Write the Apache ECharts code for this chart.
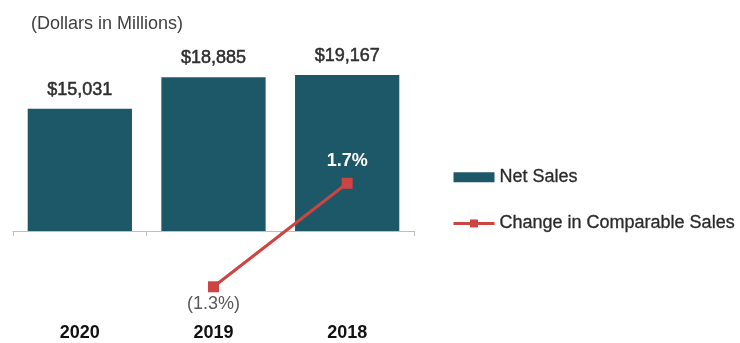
<!DOCTYPE html>
<html>
<head>
<meta charset="utf-8">
<script src="https://cdn.jsdelivr.net/npm/echarts@6/dist/echarts.min.js"></script>
<style>
  html, body { margin: 0; padding: 0; background: #fff; }
  #chart { width: 740px; height: 343px; }
</style>
</head>
<body>
<div id="chart"></div>
<script>
// Fiscal years, newest first
const years = ['2020', '2019', '2018'];
// Net sales, dollars in millions
const netSales = [15031, 18885, 19167];
// Change in comparable sales, percent (no figure for 2020)
const compChange = [null, -1.3, 1.7];

const FONT = '"Liberation Sans", Arial, sans-serif';
const RED = '#cc4542';
const TEAL = '#1d5868';

const fmtDollars = v => '$' + v.toLocaleString('en-US');
const fmtPct = v => v < 0 ? '(' + Math.abs(v).toFixed(1) + '%)' : v.toFixed(1) + '%';

const chart = echarts.init(document.getElementById('chart'));
chart.setOption({
  animation: false,
  backgroundColor: '#ffffff',
  textStyle: { fontFamily: FONT },
  title: {
    text: '(Dollars in Millions)',
    left: 26,
    top: 10,
    textStyle: { fontFamily: FONT, fontSize: 18, fontWeight: 'normal', color: '#404040' }
  },
  legend: {
    orient: 'vertical',
    left: 447,
    top: 163,
    itemWidth: 41,
    itemHeight: 10,
    itemGap: 28,
    textStyle: {
      fontFamily: FONT, fontSize: 18, color: '#2a2a2a',
      textBorderColor: '#2a2a2a', textBorderWidth: 0.3
    },
    data: [
      { name: 'Net Sales', icon: 'rect' },
      { name: 'Change in Comparable Sales', lineStyle: { width: 3, color: RED }, itemStyle: { color: RED } }
    ]
  },
  grid: { left: 13, right: 326, top: 28, bottom: 112, containLabel: false },
  xAxis: {
    type: 'category',
    data: years,
    axisLine: { lineStyle: { color: '#bfbfbf', width: 1 } },
    axisTick: { show: true, alignWithLabel: false, length: 5, lineStyle: { color: '#bfbfbf' } },
    axisLabel: { margin: 93, fontFamily: FONT, fontSize: 18, fontWeight: 'bold', color: '#111' }
  },
  yAxis: [
    { type: 'value', min: 0, max: 24940, show: false, splitLine: { show: false } },
    { type: 'value', min: 0.317, max: 6.2, show: false, splitLine: { show: false } }
  ],
  series: [
    {
      name: 'Net Sales',
      type: 'bar',
      data: netSales,
      barCategoryGap: '22%',
      itemStyle: { color: TEAL },
      label: {
        show: true,
        position: 'top',
        distance: 10,
        formatter: p => fmtDollars(p.value),
        fontFamily: FONT,
        fontSize: 18,
        color: '#2e2e2e',
        textBorderColor: '#2e2e2e',
        textBorderWidth: 0.5
      }
    },
    {
      name: 'Change in Comparable Sales',
      type: 'line',
      yAxisIndex: 1,
      clip: false,
      symbol: 'rect',
      symbolSize: 11,
      lineStyle: { color: RED, width: 3 },
      itemStyle: { color: RED },
      label: {
        show: true,
        fontFamily: FONT,
        fontSize: 18,
        formatter: p => fmtPct(p.value)
      },
      // positive change sits above its point in white, negative below in gray
      data: compChange.map(v => v == null ? '-' : {
        value: v,
        label: v < 0
          ? { position: 'bottom', distance: 3, color: '#595959' }
          : { position: 'top', distance: 8, color: '#ffffff', fontWeight: 'bold' }
      })
    }
  ]
});
</script>
</body>
</html>
